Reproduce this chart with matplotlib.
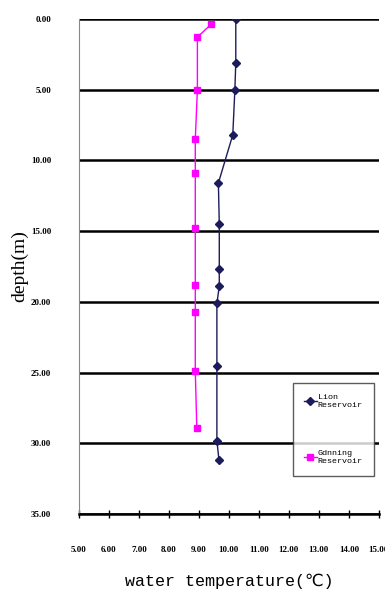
import matplotlib.pyplot as plt
import numpy as np

# depth (m) vs water temperature (C)
lion_depth = [0.0, 3.1, 5.0, 8.2, 11.6, 14.5, 17.7, 18.9, 20.1, 24.5, 29.8, 31.2]
lion_temp = [10.23, 10.23, 10.2, 10.13, 9.65, 9.68, 9.68, 9.68, 9.6, 9.6, 9.6, 9.67]

gd_depth = [0.4, 1.3, 5.0, 8.5, 10.9, 14.8, 18.8, 20.7, 24.9, 28.9]
gd_temp = [9.4, 8.95, 8.95, 8.88, 8.88, 8.88, 8.88, 8.88, 8.88, 8.93]

xticks = np.arange(5, 16, 1)
yticks = np.arange(0, 40, 5)

fig = plt.figure(figsize=(3.85, 6.07), dpi=100)
ax = fig.add_axes([0.205, 0.153, 0.779, 0.816])

ax.plot(lion_temp, lion_depth, color='#1c1c5c', lw=1.0, marker='D',
        ms=4, label='Lion\nReservoir')
ax.plot(gd_temp, gd_depth, color='#ff00ff', lw=1.0, marker='s',
        ms=4, label='Gdnning\nReservoir')

ax.set_xlim(5, 15)
ax.set_ylim(35, 0)
ax.set_xticks(xticks)
ax.set_xticklabels(['%.2f' % t for t in xticks], fontsize=6.5,
                   family='Liberation Serif', fontweight='bold')
ax.set_yticks(yticks)
ax.set_yticklabels(['%.2f' % d for d in yticks], fontsize=6.5,
                   family='Liberation Serif', fontweight='bold')

ax.yaxis.grid(True, color='black', lw=1.8)
ax.set_axisbelow(True)
ax.spines['top'].set_visible(False)
ax.spines['right'].set_visible(False)
ax.spines['left'].set_color('#888888')
ax.spines['left'].set_linewidth(0.8)
ax.spines['bottom'].set_linewidth(1.8)
ax.tick_params(axis='y', length=0, pad=20)
ax.tick_params(axis='x', direction='inout', length=6, width=1, pad=20)

ax.set_xlabel('water temperature(℃)', family=['Liberation Mono', 'DejaVu Sans'],
              fontsize=12, labelpad=14)
ax.set_ylabel('depth(m)', family='Liberation Serif', fontsize=14, labelpad=2)

leg = ax.legend(loc='upper left', bbox_to_anchor=(0.713, 0.265),
                prop={'family': 'Liberation Mono', 'size': 6},
                frameon=True, fancybox=False, edgecolor='#333333',
                handlelength=1.6, labelspacing=5.0, borderpad=1.3,
                handletextpad=0.1, borderaxespad=0)
leg.get_frame().set_linewidth(1.0)

fig.savefig('out.png', dpi=100)
